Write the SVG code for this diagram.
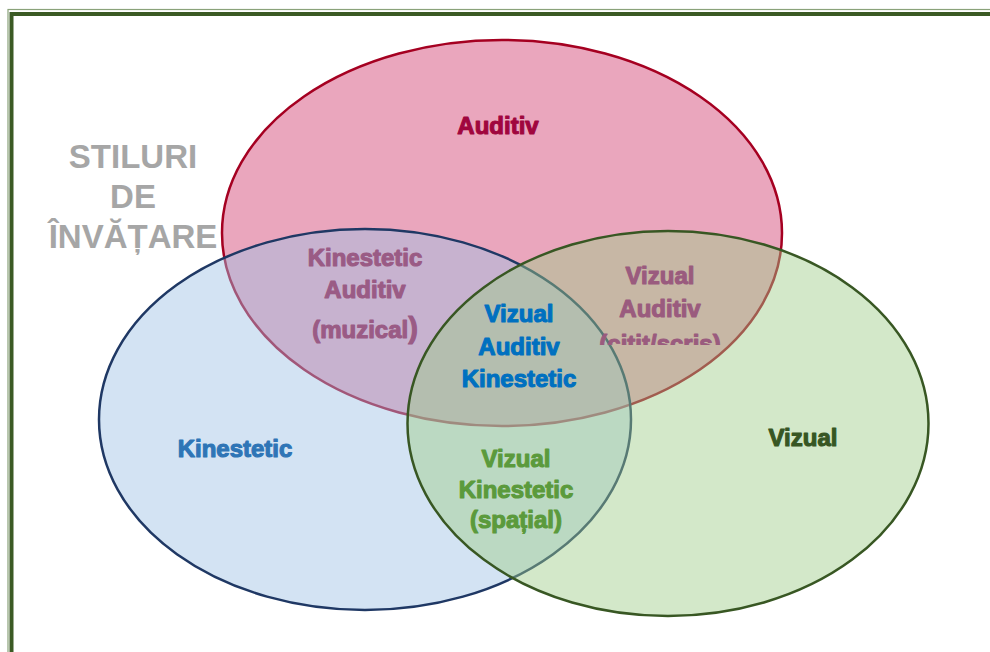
<svg xmlns="http://www.w3.org/2000/svg" width="990" height="652" viewBox="0 0 990 652">
<defs>
<style>
.lbl{font-family:"Liberation Sans",Arial,sans-serif;font-weight:bold;font-size:24px;text-anchor:middle;stroke-width:1.1;stroke-linejoin:round}
.ttl{font-family:"Liberation Sans",Arial,sans-serif;font-weight:bold;font-size:33px;fill:#a6a6a6;text-anchor:middle}
.ell{fill-opacity:0.45;stroke-width:2.5}
</style>
<clipPath id="clipVA"><rect x="560" y="250" width="200" height="95"/></clipPath>
</defs>
<rect width="990" height="652" fill="#ffffff"/>
<g id="frame" fill="none">
<rect x="8" y="9.5" width="1000" height="700" stroke="#8aa27a" stroke-width="1.2"/>
<rect x="11.5" y="14" width="1000" height="700" stroke="#3b5a24" stroke-width="4"/>
</g>
<g id="title">
<text class="ttl" x="133" y="168">STILURI</text>
<text class="ttl" x="133" y="208">DE</text>
<text class="ttl" x="133" y="248">ÎNVĂȚARE</text>
</g>
<g id="circles">
<ellipse id="auditiv-circle" class="ell" cx="502" cy="233" rx="280" ry="193" fill="#d0396c" stroke="#a50021"/>
<ellipse id="kinestetic-circle" class="ell" cx="365" cy="419.5" rx="266" ry="190.5" fill="#9dc1e4" stroke="#1f3864"/>
<ellipse id="vizual-circle" class="ell" cx="668" cy="423.5" rx="260.5" ry="192.5" fill="#9dcc87" stroke="#385723"/>
</g>
<g id="auditiv"><text class="lbl" x="498" y="134" fill="#a0063e" stroke="#a0063e">Auditiv</text></g>
<g id="kinestetic"><text class="lbl" x="235" y="457" fill="#2e75b6" stroke="#2e75b6">Kinestetic</text></g>
<g id="vizual"><text class="lbl" x="803" y="446" fill="#375623" stroke="#375623">Vizual</text></g>
<g id="kinestetic-auditiv" fill="#9a5b85" stroke="#9a5b85">
<text class="lbl" x="365" y="266">Kinestetic</text>
<text class="lbl" x="365" y="298">Auditiv</text>
<text class="lbl" x="365" y="338">(muzical<tspan font-size="29px">)</tspan></text>
</g>
<g id="vizual-auditiv" fill="#9a5b7e" stroke="#9a5b7e">
<text class="lbl" x="660" y="284">Vizual</text>
<text class="lbl" x="660" y="317">Auditiv</text>
<text class="lbl" x="660" y="352" clip-path="url(#clipVA)">(citit/scris)</text>
</g>
<g id="vizual-auditiv-kinestetic" fill="#0070c0" stroke="#0070c0">
<text class="lbl" x="519" y="322">Vizual</text>
<text class="lbl" x="519" y="355">Auditiv</text>
<text class="lbl" x="519" y="387">Kinestetic</text>
</g>
<g id="vizual-kinestetic" fill="#5b9a3c" stroke="#5b9a3c">
<text class="lbl" x="516" y="467">Vizual</text>
<text class="lbl" x="516" y="498">Kinestetic</text>
<text class="lbl" x="516" y="528">(spațial)</text>
</g>
</svg>
